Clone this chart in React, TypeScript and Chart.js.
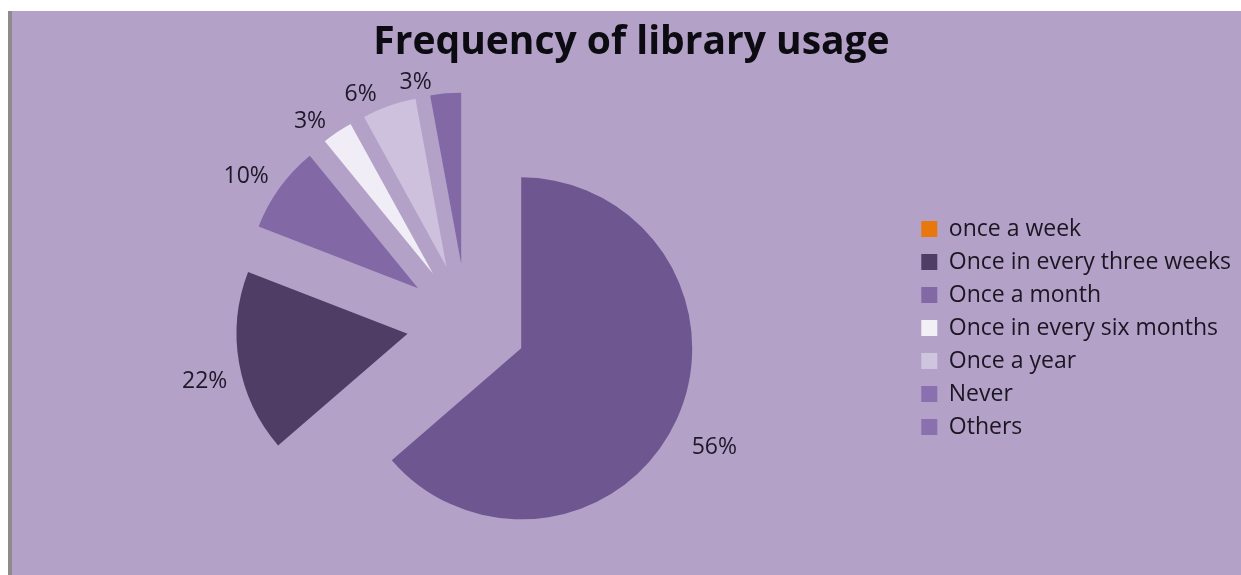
import React, { useEffect, useRef } from "react";
import { Chart, registerables } from "chart.js";

Chart.register(...registerables);

// ---- data ----
const categories = [
  "once a week",
  "Once in every three weeks",
  "Once a month",
  "Once in every six months",
  "Once a year",
  "Never",
  "Others",
];
// shares
const sliceShares = [63.6, 17.2, 8.2, 2.9, 5.1, 2.9, 0];
// percentages printed next to the slices
const percentLabels = ["56%", "22%", "10%", "3%", "6%", "3%", ""];

// ---- styles ----
const sliceColors = ["#6e5690", "#4f3d66", "#8269a6", "#f1edf6", "#cdc1dd", "#8269a6", "#8a70ae"];
const legendColors = ["#e8780e", "#4f3d66", "#8269a6", "#f3eff7", "#d0c5de", "#8a70ae", "#8a70ae"];
const labelGap = [45, 37, 35, 26, 23, 18, 0];
const labelNudgeDeg = [2, -3, -2.5, -4.6, -6.6, -8.7, 0];

const BG = "#b3a1c8";
const EXPLODE = 60;
const RADIUS = 171;
const FONT = "'Open Sans', Lato, sans-serif";

// draw each arc with the library's ArcElement, pushed out along its bisector
const explodePlugin = {
  id: "explode",
  beforeDatasetDraw(chart: any, args: any) {
    const ctx = chart.ctx;
    args.meta.data.forEach((arc: any) => {
      const mid = (arc.startAngle + arc.endAngle) / 2;
      ctx.save();
      ctx.translate(Math.cos(mid) * EXPLODE, Math.sin(mid) * EXPLODE);
      arc.draw(ctx);
      ctx.restore();
    });
    return false;
  },
};

const percentLabelPlugin = {
  id: "percentLabels",
  afterDatasetsDraw(chart: any) {
    const meta = chart.getDatasetMeta(0);
    const R = meta.controller.outerRadius;
    const ctx = chart.ctx;
    ctx.save();
    ctx.font = `23px ${FONT}`;
    ctx.fillStyle = "#1e1828";
    ctx.textAlign = "center";
    ctx.textBaseline = "middle";
    meta.data.forEach((arc: any, i: number) => {
      const text = percentLabels[i];
      if (!text) return;
      const mid = (arc.startAngle + arc.endAngle) / 2;
      const vx = arc.x + Math.cos(mid) * EXPLODE;
      const vy = arc.y + Math.sin(mid) * EXPLODE;
      const a = mid + (labelNudgeDeg[i] * Math.PI) / 180;
      const d = R + labelGap[i];
      ctx.fillText(text, vx + Math.cos(a) * d, vy + Math.sin(a) * d + 2);
    });
    ctx.restore();
  },
};

export default function App() {
  const canvasRef = useRef<HTMLCanvasElement | null>(null);

  useEffect(() => {
    const canvas = canvasRef.current;
    if (!canvas) return;
    const baseGen = (Chart as any).overrides.doughnut.plugins.legend.labels.generateLabels;
    const chart = new Chart(canvas, {
      type: "pie",
      data: {
        labels: categories,
        datasets: [
          {
            data: sliceShares,
            backgroundColor: sliceColors,
            borderWidth: 0,
            offset: 0,
            hoverOffset: 0,
            radius: RADIUS,
          } as any,
        ],
      },
      options: {
        responsive: false,
        animation: false,
        devicePixelRatio: 1,
        events: [],
        layout: { padding: { left: 10, right: 0, top: 0, bottom: 8 } },
        plugins: {
          title: {
            display: true,
            text: "Frequency of library usage",
            color: "#0d0b12",
            font: { family: FONT, size: 39, weight: "bold" },
            padding: { top: 8, bottom: 14 },
          },
          legend: {
            position: "right",
            fullSize: false,
            title: { display: true, text: "", font: { size: 1 }, padding: { top: 4, bottom: 4 } },
            labels: {
              boxWidth: 16,
              boxHeight: 16,
              padding: 10,
              color: "#1b1622",
              font: { family: FONT, size: 23 },
              generateLabels: (c: any) =>
                baseGen(c).map((it: any, i: number) => ({
                  ...it,
                  fillStyle: legendColors[i],
                  strokeStyle: legendColors[i],
                  lineWidth: 0,
                  hidden: false,
                })),
            },
          },
          tooltip: { enabled: false },
        },
      } as any,
      plugins: [explodePlugin, percentLabelPlugin],
    });
    return () => chart.destroy();
  }, []);

  return (
    <div
      style={{
        position: "fixed",
        left: 8,
        top: 11,
        width: 1229,
        height: 564,
        borderLeft: "4px solid #8c8c8c",
        background: BG,
      }}
    >
      <canvas ref={canvasRef} width={1229} height={564} style={{ display: "block" }} />
    </div>
  );
}
